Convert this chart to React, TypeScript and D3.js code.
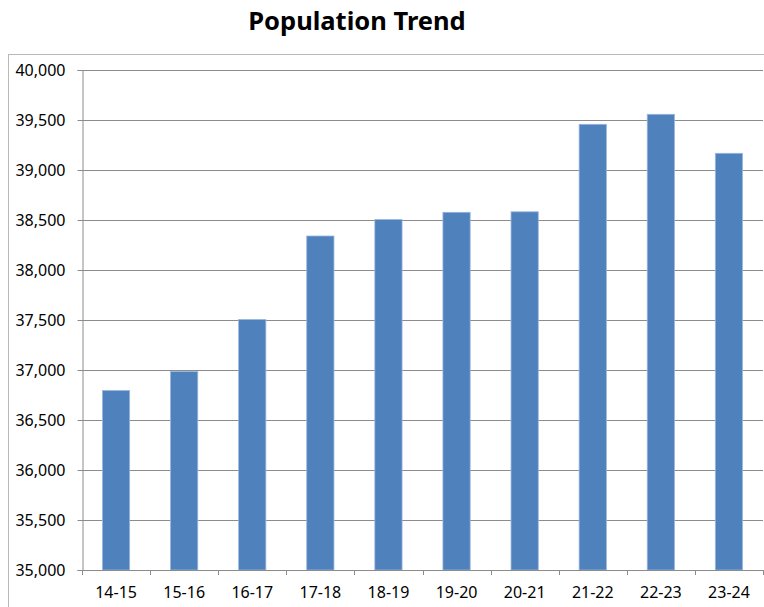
import React, { useEffect, useRef } from "react";
import * as d3 from "d3";

const categories = ["14-15", "15-16", "16-17", "17-18", "18-19", "19-20", "20-21", "21-22", "22-23", "23-24"];
const population = [36795, 36985, 37505, 38340, 38505, 38577, 38582, 39457, 39557, 39167];
const yTicks = [35000, 35500, 36000, 36500, 37000, 37500, 38000, 38500, 39000, 39500, 40000];
const title = "Population Trend";

const W = 764;
const H = 607;
const font = "'Noto Sans', 'Open Sans', sans-serif";

export default function App() {
  const ref = useRef<SVGSVGElement>(null);

  useEffect(() => {
    const svg = d3.select(ref.current);
    svg.selectAll("*").remove();

    const left = 82, right = 763, top = 70, bottom = 570;

    const x = d3.scaleBand<string>().domain(categories).range([left, right]).paddingInner(0.6).paddingOuter(0.3);
    const y = d3.scaleLinear().domain([35000, 40000]).range([bottom, top]);

    // outer chart border
    svg.append("rect")
      .attr("x", 8.5).attr("y", 54.5)
      .attr("width", W).attr("height", H)
      .attr("fill", "none").attr("stroke", "#b9b9b9");

    // title
    svg.append("text")
      .attr("x", 357).attr("y", 30)
      .attr("text-anchor", "middle")
      .style("font-family", font)
      .style("font-size", "25.5px")
      .style("font-weight", "bold")
      .text(title);

    // gridlines
    svg.append("g")
      .selectAll("line")
      .data(yTicks.filter(d => d !== 35000))
      .join("line")
      .attr("x1", left).attr("x2", right)
      .attr("y1", d => Math.round(y(d)) + 0.5)
      .attr("y2", d => Math.round(y(d)) + 0.5)
      .attr("stroke", "#8c8c8c");

    // bars
    svg.append("g")
      .selectAll("rect")
      .data(population)
      .join("rect")
      .attr("x", (d, i) => x(categories[i])!)
      .attr("width", x.bandwidth())
      .attr("y", d => y(d))
      .attr("height", d => bottom - y(d))
      .attr("fill", "#4f81bd")
      .attr("stroke", "#9bb7dc")
      .attr("stroke-width", 0.8);

    // y axis
    const yAxis = svg.append("g")
      .attr("transform", `translate(${left + 0.5},0)`)
      .call(d3.axisLeft(y).tickValues(yTicks).tickSize(5).tickPadding(12).tickFormat(d3.format(",")));
    yAxis.select(".domain").attr("stroke", "#8c8c8c");
    yAxis.selectAll(".tick line").attr("stroke", "#8c8c8c");
    yAxis.selectAll("text")
      .style("font-family", font)
      .style("font-size", "16px")
      .attr("fill", "#000");

    // x axis
    const xAxis = svg.append("g")
      .attr("transform", `translate(0,${bottom + 0.5})`)
      .call(d3.axisBottom(x).tickSize(0).tickPadding(16));
    xAxis.select(".domain").attr("stroke", "#8c8c8c").attr("d", `M${left},0H${right}`);
    xAxis.selectAll("text")
      .style("font-family", font)
      .style("font-size", "16px")
      .attr("fill", "#000");

    // category boundary ticks
    const step = (right - left) / categories.length;
    svg.append("g")
      .selectAll("line")
      .data(d3.range(categories.length + 1))
      .join("line")
      .attr("x1", i => Math.round(left + i * step) + 0.5)
      .attr("x2", i => Math.round(left + i * step) + 0.5)
      .attr("y1", bottom).attr("y2", bottom + 5)
      .attr("stroke", "#8c8c8c");
  }, []);

  return (
    <svg
      ref={ref}
      width={W}
      height={H}
      style={{ position: "absolute", left: 0, top: 0, background: "#fff" }}
    />
  );
}
